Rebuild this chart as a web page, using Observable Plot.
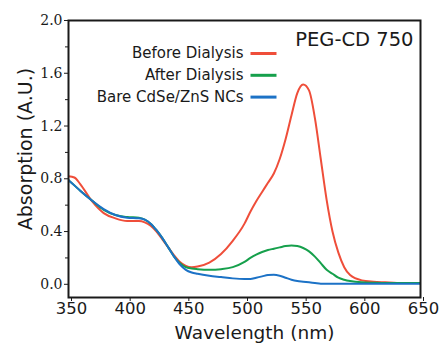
<!DOCTYPE html>
<html>
<head>
<meta charset="utf-8">
<script src="https://cdn.jsdelivr.net/npm/d3@7"></script>
<script src="https://cdn.jsdelivr.net/npm/@observablehq/plot@0.6"></script>
<style>
  html, body { margin: 0; padding: 0; background: #fff; }
</style>
</head>
<body>
<div id="chart"></div>
<script>
// Absorption spectra of PEG-CD 750 coated CdSe/ZnS nanocrystals
const wavelength = [350, 355, 360, 370, 380, 390, 400, 410, 415, 420, 425, 430, 435, 440, 445, 450, 455, 460, 470, 480, 490, 500, 505, 510, 515, 520, 525, 530, 535, 540, 545, 550, 555, 560, 565, 570, 575, 580, 585, 590, 600, 610, 620, 630, 640, 650];

const beforeDialysis = [0.82, 0.81, 0.76, 0.63, 0.54, 0.50, 0.48, 0.48, 0.47, 0.445, 0.40, 0.34, 0.28, 0.22, 0.17, 0.14, 0.13, 0.135, 0.165, 0.23, 0.33, 0.46, 0.55, 0.63, 0.70, 0.77, 0.84, 0.95, 1.10, 1.28, 1.45, 1.515, 1.47, 1.26, 0.95, 0.64, 0.40, 0.24, 0.13, 0.07, 0.03, 0.02, 0.015, 0.01, 0.01, 0.01];

const afterDialysis = [0.79, 0.75, 0.71, 0.635, 0.565, 0.525, 0.51, 0.505, 0.49, 0.46, 0.41, 0.35, 0.28, 0.21, 0.16, 0.13, 0.12, 0.115, 0.11, 0.115, 0.13, 0.17, 0.20, 0.225, 0.245, 0.26, 0.27, 0.28, 0.29, 0.295, 0.29, 0.275, 0.25, 0.21, 0.16, 0.11, 0.08, 0.05, 0.035, 0.025, 0.015, 0.012, 0.01, 0.01, 0.01, 0.01];

const bareNCs = [0.79, 0.75, 0.71, 0.635, 0.57, 0.525, 0.505, 0.50, 0.49, 0.46, 0.41, 0.35, 0.28, 0.21, 0.15, 0.11, 0.09, 0.08, 0.065, 0.055, 0.045, 0.04, 0.04, 0.05, 0.06, 0.07, 0.072, 0.065, 0.05, 0.035, 0.025, 0.02, 0.015, 0.01, 0.005, 0.005, 0.005, 0.005, 0.005, 0.005, 0.005, 0.005, 0.005, 0.005, 0.005, 0.005];

const seriesNames = ["Before Dialysis", "After Dialysis", "Bare CdSe/ZnS NCs"];
const seriesColors = ["#ef4e3a", "#16a04c", "#1c72c6"];
const seriesValues = [beforeDialysis, afterDialysis, bareNCs];

const sampleName = "PEG-CD 750";
const xLabel = "Wavelength (nm)";
const yLabel = "Absorption (A.U.)";

const xTicks = [350, 400, 450, 500, 550, 600, 650];
const yTicks = [0.0, 0.4, 0.8, 1.2, 1.6, 2.0];
const yMinorTicks = [0.2, 0.6, 1.0, 1.4, 1.8];

// long-format rows for the line mark
const rows = seriesNames.flatMap((name, i) =>
  wavelength.map((w, j) => ({ name, w, a: seriesValues[i][j] }))
);

const ink = "#1a1a1a";
const sans = "DejaVu Sans";

// short horizontal stroke used as a legend swatch
const dashSymbol = {
  draw(context, size) {
    const h = Math.sqrt(size / Math.PI);
    context.moveTo(-h, 0);
    context.lineTo(h, 0);
  }
};

const legendMarks = seriesNames.flatMap((name, i) => [
  Plot.text([name], {
    text: d => d,
    frameAnchor: "top-right",
    textAnchor: "end",
    lineAnchor: "middle",
    dx: -177,
    dy: 33 + i * 21.7,
    fontSize: 15,
    fontFamily: sans,
    fill: ink
  }),
  Plot.dot([name], {
    frameAnchor: "top-right",
    dx: -157,
    dy: 33 + i * 21.8,
    r: 13,
    symbol: dashSymbol,
    fill: "none",
    stroke: seriesColors[i],
    strokeWidth: 3
  })
]);

const chart = Plot.plot({
  width: 440,
  height: 343,
  marginLeft: 68,
  marginRight: 20,
  marginTop: 20,
  marginBottom: 46,
  style: { background: "#fff", fontFamily: sans, color: ink, overflow: "visible" },
  x: { domain: [350, 650] },
  y: { domain: [-0.1, 2.0] },
  color: { domain: seriesNames, range: seriesColors },
  marks: [
    Plot.line(rows, {
      x: "w",
      y: "a",
      z: "name",
      stroke: "name",
      strokeWidth: 2,
      curve: "monotone-x",
      clip: true
    }),
    Plot.axisY(yMinorTicks, { tickSize: 3, tickFormat: () => "", label: null, stroke: ink }),
    Plot.axisY(yTicks, {
      tickSize: 4,
      tickPadding: 2,
      tickFormat: d => d.toFixed(1),
      label: null,
      fontFamily: "DejaVu Serif",
      fontSize: 14,
      stroke: ink,
      fill: ink
    }),
    Plot.axisX(xTicks, {
      tickSize: 4,
      tickPadding: 1,
      label: null,
      fontSize: 16.5,
      fontFamily: sans,
      stroke: ink,
      fill: ink,
      dx: 3
    }),
    Plot.frame({ stroke: ink, strokeWidth: 2 }),
    Plot.text([xLabel], {
      text: d => d,
      frameAnchor: "bottom",
      textAnchor: "middle",
      lineAnchor: "middle",
      dx: 10,
      dy: 36,
      fontSize: 18.5,
      fontFamily: sans,
      fill: ink
    }),
    Plot.text([yLabel], {
      text: d => d,
      frameAnchor: "left",
      textAnchor: "middle",
      lineAnchor: "middle",
      rotate: -90,
      dx: -43,
      dy: -10,
      fontSize: 19,
      fontFamily: sans,
      fill: ink
    }),
    Plot.text([sampleName], {
      text: d => d,
      frameAnchor: "top-right",
      textAnchor: "end",
      lineAnchor: "middle",
      dx: -7,
      dy: 19,
      fontSize: 19.5,
      fontFamily: sans,
      fill: ink
    }),
    ...legendMarks
  ]
});

document.getElementById("chart").appendChild(chart);
</script>
</body>
</html>
